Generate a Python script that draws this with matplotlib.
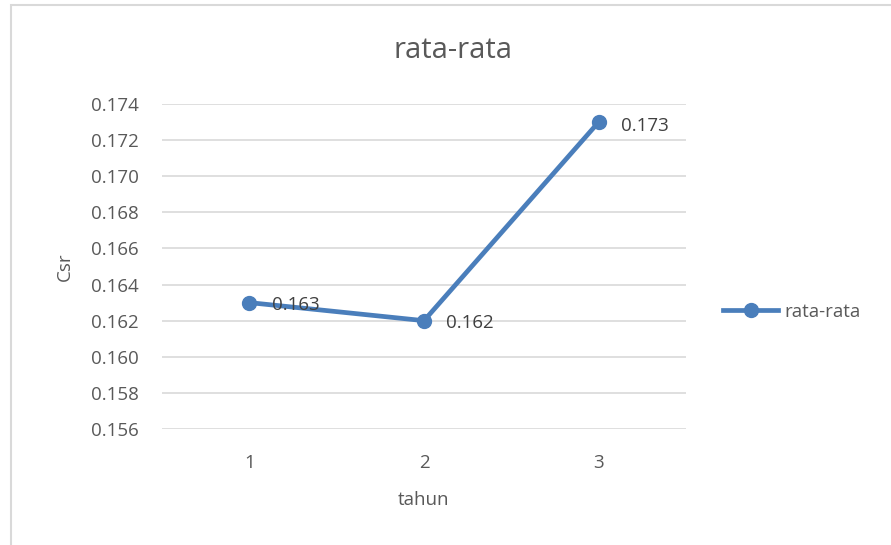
import matplotlib.pyplot as plt
from matplotlib.lines import Line2D
from matplotlib.patches import Rectangle

# average Csr per year
tahun = [1, 2, 3]
rata_rata = [0.163, 0.162, 0.173]
y_ticks = [0.156, 0.158, 0.160, 0.162, 0.164, 0.166, 0.168, 0.170, 0.172, 0.174]

blue = '#4a7ebb'
grey_text = '#595959'
grid_col = '#d9d9d9'

plt.rcParams['font.family'] = ['Open Sans', 'DejaVu Sans']

W, H = 891, 545
fig = plt.figure(figsize=(W / 100, H / 100), dpi=100)

# chart area outline (only top and left edges are visible)
fig.patches.append(Rectangle((11 / W, -0.1), 1.2, 1 - 5 / H + 0.1,
                             transform=fig.transFigure, fill=False,
                             edgecolor='#d9d9d9', linewidth=1.5))

ax = fig.add_axes([162 / W, 1 - 429 / H, (686 - 162) / W, (429 - 104) / H])
ax.set_xlim(0.5, 3.5)
ax.set_ylim(0.156, 0.174)
ax.set_yticks(y_ticks)
ax.set_yticklabels(['%.3f' % v for v in y_ticks])
ax.set_xticks(tahun)
ax.set_xticklabels([str(t) for t in tahun])
ax.grid(axis='y', color=grid_col, linewidth=1.2)
ax.set_axisbelow(True)
for s in ax.spines.values():
    s.set_visible(False)
ax.tick_params(length=0, labelsize=13.5, labelcolor=grey_text)
ax.tick_params(axis='y', pad=17)
ax.tick_params(axis='x', pad=18)

ax.plot(tahun, rata_rata, color=blue, linewidth=3.4, marker='o',
        markersize=10, clip_on=False, zorder=3)

offsets = [(16, -1.5), (16, -1.5), (16, -3)]
for x, y, off in zip(tahun, rata_rata, offsets):
    ax.annotate('%.3f' % y, (x, y), xytext=off, textcoords='offset points',
                ha='left', va='center', fontsize=13.5, color='#404040', zorder=4)

# title is centred over the whole chart area, not the plot area
fig.text(453 / W, 1 - 50 / H, 'rata-rata', fontsize=21, color=grey_text,
         ha='center', va='center')
ax.set_xlabel('tahun', fontsize=13.5, color=grey_text, labelpad=14)
ax.set_ylabel('Csr', fontsize=13.5, color=grey_text, labelpad=12)

handle = Line2D([], [], color=blue, linewidth=3.4, marker='o', markersize=10)
fig.legend([handle], ['rata-rata'], loc='center left',
           bbox_to_anchor=(706 / W, 1 - 312 / H), frameon=False,
           fontsize=13.5, labelcolor=grey_text, handlelength=2.95,
           handletextpad=0.35)

fig.savefig('out.png', dpi=100)
